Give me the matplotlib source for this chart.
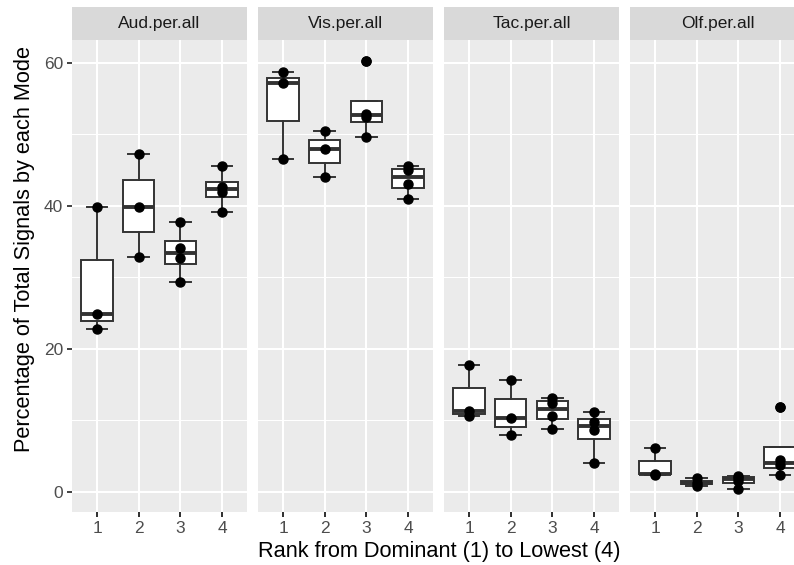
import matplotlib
matplotlib.use('Agg')
import numpy as np
import matplotlib.pyplot as plt

plt.rcParams['font.family'] = ['Liberation Sans', 'DejaVu Sans']

facets = ['Aud.per.all', 'Vis.per.all', 'Tac.per.all', 'Olf.per.all']
ranks = [1, 2, 3, 4]

aud = [[22.8, 24.9, 39.9],
       [32.9, 39.9, 47.3],
       [29.3, 32.7, 34.1, 37.8],
       [39.2, 42.0, 42.6, 45.6]]
vis = [[46.5, 57.2, 58.7],
       [44.1, 48.0, 50.5],
       [49.7, 52.4, 52.9, 60.2],
       [41.0, 43.0, 45.0, 45.6]]
tac = [[10.6, 11.3, 17.8],
       [7.9, 10.4, 15.7],
       [8.8, 10.6, 12.5, 13.2],
       [4.1, 8.6, 9.8, 11.2]]
olf = [[2.4, 2.5, 6.2],
       [0.9, 1.2, 1.9],
       [0.4, 1.6, 2.0, 2.2],
       [2.4, 3.75, 4.45, 11.85]]
all_data = [aud, vis, tac, olf]

W, H = 794, 565
fig = plt.figure(figsize=(W / 100, H / 100), dpi=100)

panel_w = 175
lefts = [72, 258, 444, 630]
p_top, p_bot = 40, 511.7
s_top = 7

for k in range(4):
    ax = fig.add_axes([lefts[k] / W, (H - p_bot) / H, panel_w / W, (p_bot - p_top) / H])
    ax.set_facecolor('#EBEBEB')
    for sp in ax.spines.values():
        sp.set_visible(False)
    ax.set_xlim(0.4, 4.6)
    ax.set_ylim(-2.76, 63.2)
    ax.set_yticks([0, 20, 40, 60])
    ax.set_yticks([10, 30, 50], minor=True)
    ax.set_xticks(ranks)
    ax.grid(which='major', color='white', linewidth=1.5)
    ax.grid(which='minor', axis='y', color='white', linewidth=0.75)
    ax.set_axisbelow(True)
    ax.tick_params(which='major', length=3.5, width=1.3, color='#333333',
                   labelcolor='#4D4D4D', labelsize=12.5, pad=3)
    ax.tick_params(which='minor', length=0)
    if k > 0:
        ax.tick_params(axis='y', which='both', left=False, labelleft=False)

    data = all_data[k]
    bp = ax.boxplot(data, positions=ranks, widths=0.75, whis=1.5,
                    patch_artist=True, showfliers=True, capwidths=0.5,
                    boxprops=dict(facecolor='white', edgecolor='#333333', linewidth=1.4),
                    whiskerprops=dict(color='#333333', linewidth=1.4),
                    capprops=dict(color='#333333', linewidth=1.4),
                    medianprops=dict(color='#333333', linewidth=2.8),
                    flierprops=dict(marker='o', markerfacecolor='black',
                                    markeredgecolor='black', markersize=6.5))
    for i, vals in enumerate(data):
        ax.plot([ranks[i]] * len(vals), vals, 'o', color='black',
                markersize=6.5, zorder=5)

    # strip
    sax = fig.add_axes([lefts[k] / W, (H - p_top) / H, panel_w / W, (p_top - s_top) / H])
    sax.set_facecolor('#D9D9D9')
    sax.set_xticks([])
    sax.set_yticks([])
    for sp in sax.spines.values():
        sp.set_visible(False)
    sax.text(0.5, 0.5, facets[k], ha='center', va='center',
             fontsize=12.5, color='#1A1A1A', transform=sax.transAxes)

fig.text(439 / W, 1 - 551 / H, 'Rank from Dominant (1) to Lowest (4)',
         ha='center', va='center', fontsize=15.7)
fig.text(25 / W, 1 - 249 / H, 'Percentage of Total Signals by each Mode',
         ha='center', va='center', rotation=90, fontsize=15.7)

fig.savefig('out.png', dpi=100)
